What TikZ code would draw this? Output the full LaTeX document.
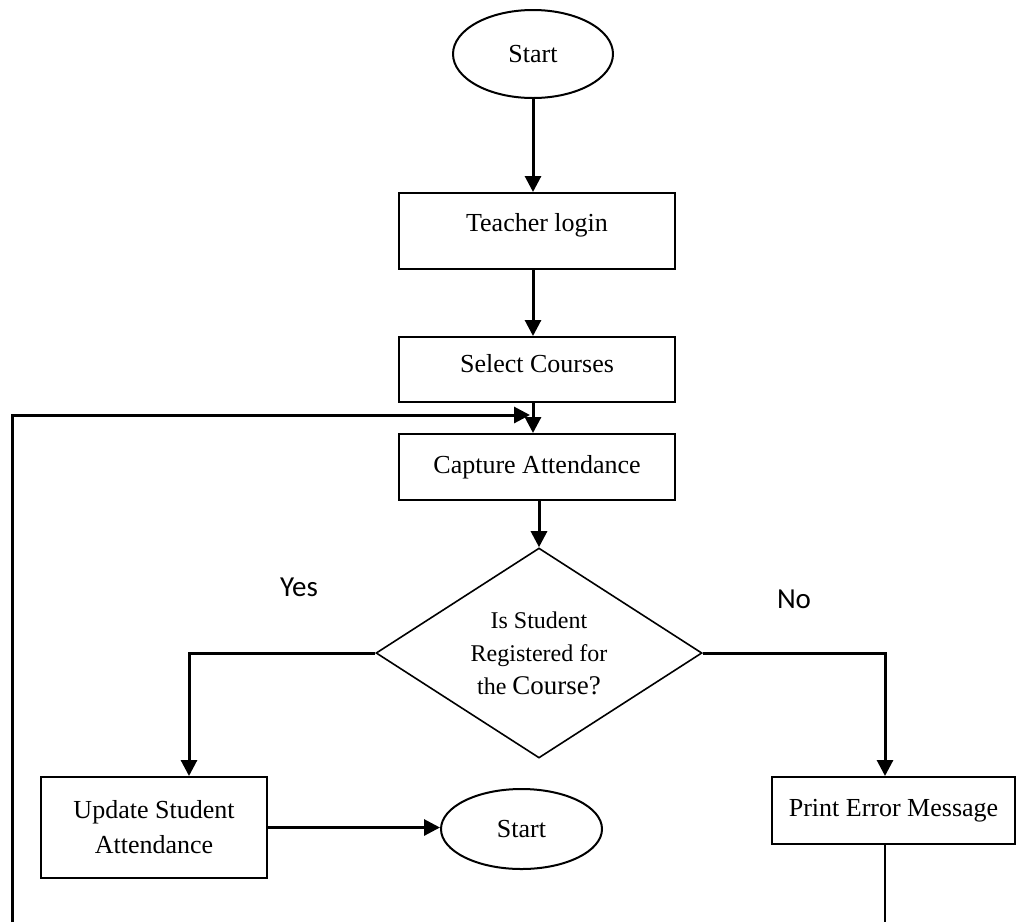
\documentclass[tikz,border=0pt]{standalone}
\usepackage{fontspec}
\setmainfont{Liberation Serif}
\newfontfamily\answerfont{Carlito}
\usetikzlibrary{shapes.geometric,arrows.meta}
\tikzset{
  procbox/.style={draw,line width=1pt,minimum width=138pt,inner sep=2pt,align=center,font=\fontsize{13}{17.5}\selectfont},
  termnode/.style={draw,ellipse,line width=1pt,inner sep=0pt,font=\fontsize{13}{16}\selectfont},
  decidenode/.style={draw,diamond,aspect=1.55,line width=0.8pt,inner sep=0pt,minimum width=163pt,minimum height=105pt,align=center,font=\fontsize{12}{16.5}\selectfont},
  flowarrow/.style={line width=1.5pt,-{Triangle[length=8pt,width=8pt]}},
  answer/.style={font=\answerfont\fontsize{14.5}{17}\selectfont}
}
\begin{document}
\begin{tikzpicture}[x=0.5pt,y=-0.5pt]
  \useasboundingbox (0,0) rectangle (1016,922);
  % main column
  \node[termnode,minimum width=80pt,minimum height=44pt] (start) at (533,54) {Start};
  \node[procbox,minimum height=38pt,text depth=8.5pt] (login) at (537,231) {Teacher login};
  \node[procbox,minimum height=32.5pt,text depth=6pt] (select) at (537,369.5) {Select Courses};
  \node[procbox,minimum height=33pt] (capture) at (537,467) {Capture Attendance};
  \node[decidenode] (decide) at (539,653) {Is Student\\Registered for\\the {\fontsize{13.5}{16.5}\selectfont Course?}};
  % branches
  \node[procbox,minimum width=113pt,minimum height=50.5pt] (update) at (154,827.5) {Update Student\\Attendance};
  \node[termnode,minimum width=80.5pt,minimum height=40pt] (finish) at (521.5,829) {Start};
  \node[procbox,minimum width=121.5pt,minimum height=33.5pt] (error) at (893.5,810.5) {Print Error Message};
  \node[answer] (yes) at (299,587) {Yes};
  \node[answer] (no) at (794,599) {No};
  % loop ends (cut by the page edge)
  \coordinate (loopfoot) at (12,922);
  \coordinate (loopend) at (530,415);
  \coordinate (errfoot) at (885,922);
  \draw[flowarrow] (start.south) -- (start.south |- login.north);
  \draw[flowarrow] (start.south |- login.south) -- (start.south |- select.north);
  \draw[flowarrow] (start.south |- select.south) -- (start.south |- capture.north);
  \draw[flowarrow] (loopfoot) |- (loopend);
  \draw[flowarrow] (capture.south -| decide.north) -- (decide.north);
  \draw[flowarrow] (decide.west) -| ([xshift=17.5pt]update.north);
  \draw[flowarrow] (decide.east) -| (errfoot |- error.north);
  \draw[flowarrow] (update.east) -- (update.east -| finish.west);
  \draw[line width=0.75pt] (errfoot |- error.south) -- (errfoot);
\end{tikzpicture}
\end{document}
